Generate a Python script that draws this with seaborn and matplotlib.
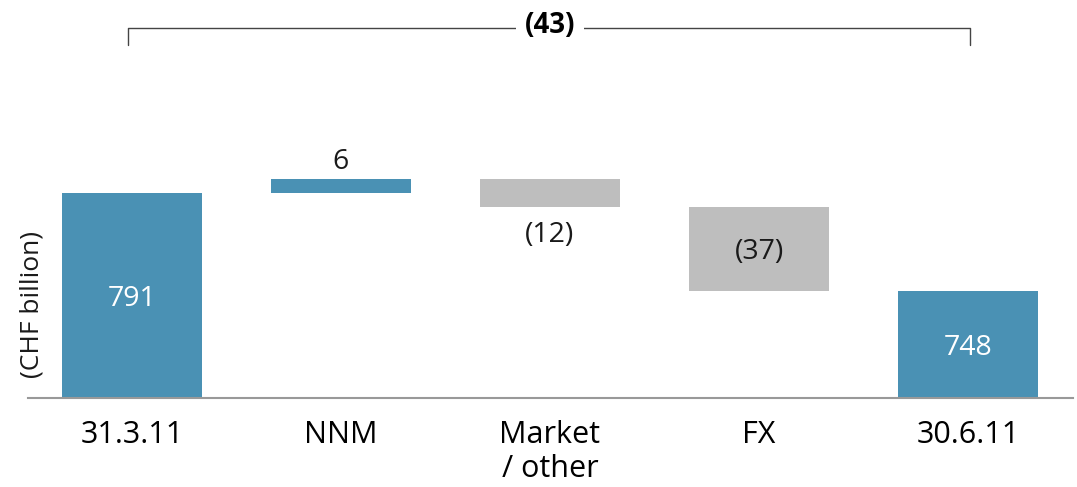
import numpy as np
import seaborn as sns
import matplotlib.pyplot as plt

sns.set_style("white")
plt.rcParams['font.family'] = ['Open Sans', 'DejaVu Sans']

# waterfall data (CHF billion)
categories = ["31.3.11", "NNM", "Market\n/ other", "FX", "30.6.11"]
start_value = 791
changes = [6, -12, -37]
end_value = 748
value_labels = ["791", "6", "(12)", "(37)", "748"]
total_change_label = "(43)"

blue = "#4a91b4"
grey = "#bebebe"
bar_colors = [blue, blue, grey, grey, blue]

# compute bar bottoms / heights
running = np.cumsum([start_value] + changes)
bottoms = [0]
heights = [start_value]
for prev, ch in zip(running[:-1], changes):
    lo = min(prev, prev + ch)
    bottoms.append(lo)
    heights.append(abs(ch))
bottoms.append(0)
heights.append(end_value)
tops = [b + h for b, h in zip(bottoms, heights)]

y_min, y_max = 701, 875.6

fig, ax = plt.subplots(figsize=(10.77, 4.87), dpi=100)
fig.subplots_adjust(left=27.5 / 1077, right=1072.5 / 1077, bottom=89 / 487, top=1.0)

sns.barplot(x=categories, y=heights, bottom=bottoms, width=0.67, ax=ax,
            color=blue, saturation=1)
for patch, c in zip(ax.patches, bar_colors):
    patch.set_facecolor(c)
    patch.set_edgecolor("none")

ax.set_ylim(y_min, y_max)
ax.set_xlim(-0.5, len(categories) - 0.5)
ax.set_yticks([])
ax.tick_params(axis="x", length=0, labelsize=22, pad=16, labelcolor="black")
for lbl in ax.get_xticklabels():
    lbl.set_linespacing(1.15)
for side in ["top", "right", "left"]:
    ax.spines[side].set_visible(False)
ax.spines["bottom"].set_color("#999999")
ax.spines["bottom"].set_linewidth(1.5)

# value labels
for i, lab in enumerate(value_labels):
    lo = max(bottoms[i], y_min)
    if i in (0, 3, 4):
        color = "white" if i != 3 else "#1a1a1a"
        ax.text(i, (lo + tops[i]) / 2, lab, ha="center", va="center_baseline",
                fontsize=20.5, color=color)
    elif changes[i - 1] > 0:
        ax.annotate(lab, (i, tops[i]), xytext=(0, 15), textcoords="offset points",
                    ha="center", va="center_baseline", fontsize=20.5, color="#1a1a1a")
    else:
        ax.annotate(lab, (i, bottoms[i]), xytext=(0, -18), textcoords="offset points",
                    ha="center", va="center_baseline", fontsize=20.5, color="#1a1a1a")

# bracket for total change
br_y, br_tick = 863.3, 856
ax.plot([-0.02, -0.02, 4.01, 4.01], [br_tick, br_y, br_y, br_tick],
        color="#444444", lw=1, clip_on=False)
ax.text(2.0, br_y + 1.2, total_change_label, ha="center", va="center", fontsize=20,
        fontweight="bold", color="black",
        bbox=dict(facecolor="white", edgecolor="none", pad=6))

fig.text(32 / 1077, 1 - 305 / 487, "(CHF billion)", rotation=90, ha="center",
         va="center", fontsize=19, color="#1a1a1a")

fig.savefig("out.png", dpi=100)
